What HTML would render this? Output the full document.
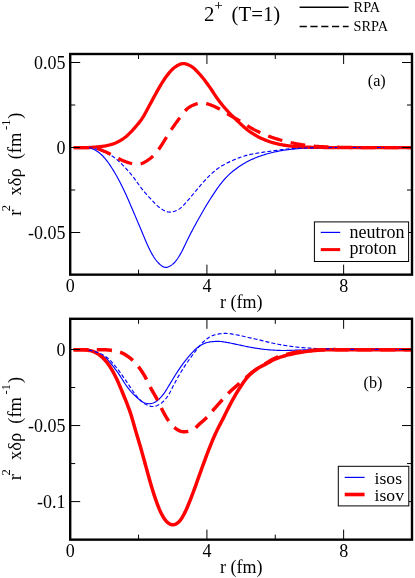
<!DOCTYPE html>
<html><head><meta charset="utf-8"><title>chart</title>
<style>html,body{margin:0;padding:0;background:#fff;}body{width:415px;height:578px;overflow:hidden;font-family:"Liberation Serif",serif;}svg{display:block;}</style></head>
<body>
<svg width="415" height="578" viewBox="0 0 415 578" font-family="'Liberation Serif', serif" fill="#000">
<rect width="415" height="578" fill="#fff"/>
<g opacity="0.999">
<text x="204.10" y="20.50" font-size="20.8" text-anchor="start" >2</text>
<text x="214.80" y="9.60" font-size="13.5" text-anchor="start" stroke="#000" stroke-width="0.3">+</text>
<text x="231.60" y="20.50" font-size="20.8" text-anchor="start" >(T=1)</text>
<path d="M299.6 7.2 H348.6" stroke="#000" stroke-width="1.6"/>
<path d="M299.6 26.5 H348.6" stroke="#000" stroke-width="1.6" stroke-dasharray="7.2 3.6"/>
<text x="353.60" y="11.60" font-size="14.3" text-anchor="start" >RPA</text>
<text x="353.60" y="31.30" font-size="14.3" text-anchor="start" >SRPA</text>
<g clip-path="url(#ca)">
<path d="M70.5 147.50 L71.5 147.50 L72.5 147.50 L73.5 147.50 L74.5 147.50 L75.5 147.50 L76.5 147.50 L77.5 147.50 L78.5 147.50 L79.5 147.50 L80.5 147.50 L81.5 147.51 L82.5 147.52 L83.5 147.54 L84.5 147.56 L85.5 147.60 L86.5 147.66 L87.5 147.73 L88.5 147.84 L89.5 148.00 L90.5 148.22 L91.5 148.51 L92.5 148.88 L93.5 149.31 L94.5 149.80 L95.5 150.34 L96.5 150.92 L97.5 151.56 L98.5 152.26 L99.5 153.03 L100.5 153.86 L101.5 154.76 L102.5 155.72 L103.5 156.75 L104.5 157.85 L105.5 159.03 L106.5 160.28 L107.5 161.61 L108.5 163.00 L109.5 164.44 L110.5 165.93 L111.5 167.45 L112.5 169.02 L113.5 170.64 L114.5 172.31 L115.5 174.02 L116.5 175.77 L117.5 177.57 L118.5 179.41 L119.5 181.30 L120.5 183.23 L121.5 185.21 L122.5 187.23 L123.5 189.29 L124.5 191.40 L125.5 193.55 L126.5 195.74 L127.5 197.98 L128.5 200.26 L129.5 202.57 L130.5 204.90 L131.5 207.24 L132.5 209.59 L133.5 211.94 L134.5 214.29 L135.5 216.64 L136.5 219.00 L137.5 221.36 L138.5 223.73 L139.5 226.09 L140.5 228.46 L141.5 230.83 L142.5 233.22 L143.5 235.63 L144.5 238.03 L145.5 240.42 L146.5 242.77 L147.5 245.04 L148.5 247.22 L149.5 249.29 L150.5 251.25 L151.5 253.11 L152.5 254.87 L153.5 256.53 L154.5 258.07 L155.5 259.48 L156.5 260.77 L157.5 261.94 L158.5 263.01 L159.5 264.00 L160.5 264.90 L161.5 265.71 L162.5 266.38 L163.5 266.90 L164.5 267.24 L165.5 267.39 L166.5 267.36 L167.5 267.16 L168.5 266.81 L169.5 266.34 L170.5 265.78 L171.5 265.12 L172.5 264.37 L173.5 263.51 L174.5 262.52 L175.5 261.39 L176.5 260.12 L177.5 258.73 L178.5 257.23 L179.5 255.62 L180.5 253.91 L181.5 252.09 L182.5 250.15 L183.5 248.13 L184.5 246.04 L185.5 243.92 L186.5 241.82 L187.5 239.74 L188.5 237.71 L189.5 235.73 L190.5 233.78 L191.5 231.87 L192.5 229.97 L193.5 228.10 L194.5 226.24 L195.5 224.40 L196.5 222.57 L197.5 220.76 L198.5 218.97 L199.5 217.18 L200.5 215.42 L201.5 213.66 L202.5 211.93 L203.5 210.21 L204.5 208.50 L205.5 206.82 L206.5 205.16 L207.5 203.52 L208.5 201.90 L209.5 200.31 L210.5 198.73 L211.5 197.18 L212.5 195.64 L213.5 194.12 L214.5 192.62 L215.5 191.12 L216.5 189.65 L217.5 188.20 L218.5 186.79 L219.5 185.41 L220.5 184.09 L221.5 182.81 L222.5 181.58 L223.5 180.39 L224.5 179.25 L225.5 178.14 L226.5 177.08 L227.5 176.06 L228.5 175.08 L229.5 174.14 L230.5 173.24 L231.5 172.37 L232.5 171.53 L233.5 170.72 L234.5 169.94 L235.5 169.18 L236.5 168.44 L237.5 167.73 L238.5 167.03 L239.5 166.35 L240.5 165.70 L241.5 165.06 L242.5 164.43 L243.5 163.83 L244.5 163.24 L245.5 162.67 L246.5 162.12 L247.5 161.59 L248.5 161.07 L249.5 160.56 L250.5 160.07 L251.5 159.59 L252.5 159.12 L253.5 158.67 L254.5 158.24 L255.5 157.82 L256.5 157.42 L257.5 157.03 L258.5 156.66 L259.5 156.30 L260.5 155.95 L261.5 155.61 L262.5 155.28 L263.5 154.96 L264.5 154.65 L265.5 154.35 L266.5 154.06 L267.5 153.78 L268.5 153.51 L269.5 153.24 L270.5 152.99 L271.5 152.74 L272.5 152.49 L273.5 152.25 L274.5 152.02 L275.5 151.80 L276.5 151.58 L277.5 151.37 L278.5 151.17 L279.5 150.97 L280.5 150.79 L281.5 150.62 L282.5 150.45 L283.5 150.30 L284.5 150.15 L285.5 150.01 L286.5 149.88 L287.5 149.75 L288.5 149.63 L289.5 149.51 L290.5 149.40 L291.5 149.29 L292.5 149.18 L293.5 149.07 L294.5 148.96 L295.5 148.86 L296.5 148.76 L297.5 148.66 L298.5 148.57 L299.5 148.49 L300.5 148.41 L301.5 148.34 L302.5 148.28 L303.5 148.23 L304.5 148.18 L305.5 148.13 L306.5 148.09 L307.5 148.05 L308.5 148.01 L309.5 147.97 L310.5 147.93 L311.5 147.90 L312.5 147.87 L313.5 147.84 L314.5 147.81 L315.5 147.79 L316.5 147.76 L317.5 147.74 L318.5 147.73 L319.5 147.71 L320.5 147.70 L321.5 147.68 L322.5 147.67 L323.5 147.66 L324.5 147.65 L325.5 147.64 L326.5 147.63 L327.5 147.62 L328.5 147.61 L329.5 147.60 L330.5 147.59 L331.5 147.58 L332.5 147.58 L333.5 147.57 L334.5 147.56 L335.5 147.55 L336.5 147.55 L337.5 147.54 L338.5 147.53 L339.5 147.53 L340.5 147.52 L341.5 147.52 L342.5 147.52 L343.5 147.51 L344.5 147.51 L345.5 147.51 L346.5 147.50 L347.5 147.50 L348.5 147.50 L349.5 147.50 L350.5 147.50 L351.5 147.50 L352.5 147.50 L353.5 147.50 L354.5 147.50 L355.5 147.50 L356.5 147.50 L357.5 147.50 L358.5 147.50 L359.5 147.50 L360.5 147.50 L361.5 147.50 L362.5 147.50 L363.5 147.50 L364.5 147.50 L365.5 147.50 L366.5 147.50 L367.5 147.50 L368.5 147.50 L369.5 147.50 L370.5 147.50 L371.5 147.50 L372.5 147.50 L373.5 147.50 L374.5 147.50 L375.5 147.50 L376.5 147.50 L377.5 147.50 L378.5 147.50 L379.5 147.50 L380.5 147.50 L381.5 147.50 L382.5 147.50 L383.5 147.50 L384.5 147.50 L385.5 147.50 L386.5 147.50 L387.5 147.50 L388.5 147.50 L389.5 147.50 L390.5 147.50 L391.5 147.50 L392.5 147.50 L393.5 147.50 L394.5 147.50 L395.5 147.50 L396.5 147.50 L397.5 147.50 L398.5 147.50 L399.5 147.50 L400.5 147.50 L401.5 147.50 L402.5 147.50 L403.5 147.50 L404.5 147.50 L405.5 147.50 L406.5 147.50 L407.5 147.50 L408.5 147.50 L409.5 147.50 L410.5 147.50 L411.5 147.50" fill="none" stroke="#0000ff" stroke-width="1.15" stroke-linejoin="round"/>
<path d="M70.5 147.65 L71.5 147.65 L72.5 147.65 L73.5 147.65 L74.5 147.65 L75.5 147.65 L76.5 147.65 L77.5 147.65 L78.5 147.65 L79.5 147.65 L80.5 147.65 L81.5 147.65 L82.5 147.65 L83.5 147.65 L84.5 147.64 L85.5 147.63 L86.5 147.61 L87.5 147.58 L88.5 147.54 L89.5 147.49 L90.5 147.42 L91.5 147.36 L92.5 147.28 L93.5 147.20 L94.5 147.12 L95.5 147.04 L96.5 146.96 L97.5 146.87 L98.5 146.78 L99.5 146.68 L100.5 146.58 L101.5 146.47 L102.5 146.35 L103.5 146.21 L104.5 146.06 L105.5 145.89 L106.5 145.70 L107.5 145.48 L108.5 145.25 L109.5 144.99 L110.5 144.71 L111.5 144.41 L112.5 144.09 L113.5 143.74 L114.5 143.36 L115.5 142.95 L116.5 142.51 L117.5 142.04 L118.5 141.54 L119.5 141.01 L120.5 140.43 L121.5 139.82 L122.5 139.18 L123.5 138.49 L124.5 137.76 L125.5 136.99 L126.5 136.17 L127.5 135.31 L128.5 134.39 L129.5 133.43 L130.5 132.43 L131.5 131.39 L132.5 130.32 L133.5 129.22 L134.5 128.08 L135.5 126.93 L136.5 125.75 L137.5 124.56 L138.5 123.36 L139.5 122.12 L140.5 120.82 L141.5 119.43 L142.5 117.93 L143.5 116.31 L144.5 114.59 L145.5 112.80 L146.5 110.96 L147.5 109.09 L148.5 107.21 L149.5 105.34 L150.5 103.47 L151.5 101.60 L152.5 99.73 L153.5 97.86 L154.5 96.01 L155.5 94.17 L156.5 92.36 L157.5 90.58 L158.5 88.83 L159.5 87.10 L160.5 85.40 L161.5 83.73 L162.5 82.11 L163.5 80.54 L164.5 79.03 L165.5 77.59 L166.5 76.21 L167.5 74.89 L168.5 73.62 L169.5 72.41 L170.5 71.27 L171.5 70.20 L172.5 69.21 L173.5 68.32 L174.5 67.52 L175.5 66.78 L176.5 66.11 L177.5 65.49 L178.5 64.93 L179.5 64.45 L180.5 64.06 L181.5 63.77 L182.5 63.61 L183.5 63.57 L184.5 63.64 L185.5 63.83 L186.5 64.11 L187.5 64.47 L188.5 64.89 L189.5 65.37 L190.5 65.90 L191.5 66.50 L192.5 67.17 L193.5 67.93 L194.5 68.79 L195.5 69.73 L196.5 70.74 L197.5 71.80 L198.5 72.90 L199.5 74.02 L200.5 75.17 L201.5 76.35 L202.5 77.56 L203.5 78.80 L204.5 80.08 L205.5 81.38 L206.5 82.72 L207.5 84.07 L208.5 85.45 L209.5 86.86 L210.5 88.30 L211.5 89.77 L212.5 91.27 L213.5 92.80 L214.5 94.32 L215.5 95.83 L216.5 97.31 L217.5 98.76 L218.5 100.15 L219.5 101.49 L220.5 102.78 L221.5 104.04 L222.5 105.26 L223.5 106.45 L224.5 107.62 L225.5 108.76 L226.5 109.88 L227.5 110.98 L228.5 112.05 L229.5 113.11 L230.5 114.14 L231.5 115.16 L232.5 116.15 L233.5 117.13 L234.5 118.10 L235.5 119.05 L236.5 120.00 L237.5 120.95 L238.5 121.89 L239.5 122.83 L240.5 123.77 L241.5 124.70 L242.5 125.63 L243.5 126.55 L244.5 127.45 L245.5 128.32 L246.5 129.16 L247.5 129.96 L248.5 130.73 L249.5 131.46 L250.5 132.17 L251.5 132.84 L252.5 133.49 L253.5 134.11 L254.5 134.71 L255.5 135.29 L256.5 135.85 L257.5 136.39 L258.5 136.92 L259.5 137.42 L260.5 137.92 L261.5 138.39 L262.5 138.86 L263.5 139.30 L264.5 139.73 L265.5 140.14 L266.5 140.54 L267.5 140.91 L268.5 141.28 L269.5 141.62 L270.5 141.95 L271.5 142.27 L272.5 142.58 L273.5 142.87 L274.5 143.15 L275.5 143.42 L276.5 143.67 L277.5 143.91 L278.5 144.13 L279.5 144.34 L280.5 144.54 L281.5 144.73 L282.5 144.91 L283.5 145.08 L284.5 145.25 L285.5 145.40 L286.5 145.55 L287.5 145.69 L288.5 145.82 L289.5 145.95 L290.5 146.07 L291.5 146.19 L292.5 146.29 L293.5 146.40 L294.5 146.49 L295.5 146.57 L296.5 146.64 L297.5 146.71 L298.5 146.77 L299.5 146.83 L300.5 146.88 L301.5 146.93 L302.5 146.97 L303.5 147.02 L304.5 147.06 L305.5 147.10 L306.5 147.14 L307.5 147.18 L308.5 147.21 L309.5 147.24 L310.5 147.27 L311.5 147.30 L312.5 147.32 L313.5 147.35 L314.5 147.37 L315.5 147.38 L316.5 147.40 L317.5 147.41 L318.5 147.43 L319.5 147.44 L320.5 147.45 L321.5 147.46 L322.5 147.47 L323.5 147.49 L324.5 147.50 L325.5 147.51 L326.5 147.52 L327.5 147.53 L328.5 147.54 L329.5 147.55 L330.5 147.56 L331.5 147.57 L332.5 147.57 L333.5 147.58 L334.5 147.59 L335.5 147.60 L336.5 147.60 L337.5 147.61 L338.5 147.62 L339.5 147.62 L340.5 147.63 L341.5 147.63 L342.5 147.63 L343.5 147.64 L344.5 147.64 L345.5 147.64 L346.5 147.65 L347.5 147.65 L348.5 147.65 L349.5 147.65 L350.5 147.65 L351.5 147.65 L352.5 147.65 L353.5 147.65 L354.5 147.65 L355.5 147.65 L356.5 147.65 L357.5 147.65 L358.5 147.65 L359.5 147.65 L360.5 147.65 L361.5 147.65 L362.5 147.65 L363.5 147.65 L364.5 147.65 L365.5 147.65 L366.5 147.65 L367.5 147.65 L368.5 147.65 L369.5 147.65 L370.5 147.65 L371.5 147.65 L372.5 147.65 L373.5 147.65 L374.5 147.65 L375.5 147.65 L376.5 147.65 L377.5 147.65 L378.5 147.65 L379.5 147.65 L380.5 147.65 L381.5 147.65 L382.5 147.65 L383.5 147.65 L384.5 147.65 L385.5 147.65 L386.5 147.65 L387.5 147.65 L388.5 147.65 L389.5 147.65 L390.5 147.65 L391.5 147.65 L392.5 147.65 L393.5 147.65 L394.5 147.65 L395.5 147.65 L396.5 147.65 L397.5 147.65 L398.5 147.65 L399.5 147.65 L400.5 147.65 L401.5 147.65 L402.5 147.65 L403.5 147.65 L404.5 147.65 L405.5 147.65 L406.5 147.65 L407.5 147.65 L408.5 147.65 L409.5 147.65 L410.5 147.65 L411.5 147.65" fill="none" stroke="#ff0000" stroke-width="3.3" stroke-linejoin="round"/>
<path d="M70.5 147.50 L71.5 147.50 L72.5 147.50 L73.5 147.50 L74.5 147.50 L75.5 147.50 L76.5 147.50 L77.5 147.50 L78.5 147.50 L79.5 147.50 L80.5 147.50 L81.5 147.50 L82.5 147.50 L83.5 147.51 L84.5 147.52 L85.5 147.55 L86.5 147.59 L87.5 147.65 L88.5 147.74 L89.5 147.85 L90.5 147.98 L91.5 148.12 L92.5 148.29 L93.5 148.47 L94.5 148.67 L95.5 148.88 L96.5 149.12 L97.5 149.40 L98.5 149.72 L99.5 150.08 L100.5 150.47 L101.5 150.89 L102.5 151.33 L103.5 151.77 L104.5 152.22 L105.5 152.68 L106.5 153.14 L107.5 153.62 L108.5 154.11 L109.5 154.62 L110.5 155.16 L111.5 155.74 L112.5 156.35 L113.5 157.00 L114.5 157.71 L115.5 158.47 L116.5 159.27 L117.5 160.12 L118.5 161.01 L119.5 161.93 L120.5 162.88 L121.5 163.85 L122.5 164.84 L123.5 165.85 L124.5 166.88 L125.5 167.93 L126.5 169.02 L127.5 170.13 L128.5 171.26 L129.5 172.43 L130.5 173.61 L131.5 174.83 L132.5 176.09 L133.5 177.38 L134.5 178.71 L135.5 180.08 L136.5 181.47 L137.5 182.88 L138.5 184.29 L139.5 185.67 L140.5 187.02 L141.5 188.34 L142.5 189.61 L143.5 190.84 L144.5 192.04 L145.5 193.21 L146.5 194.35 L147.5 195.47 L148.5 196.58 L149.5 197.66 L150.5 198.73 L151.5 199.79 L152.5 200.85 L153.5 201.91 L154.5 202.96 L155.5 203.99 L156.5 204.98 L157.5 205.92 L158.5 206.79 L159.5 207.58 L160.5 208.31 L161.5 208.98 L162.5 209.60 L163.5 210.17 L164.5 210.70 L165.5 211.16 L166.5 211.54 L167.5 211.83 L168.5 212.01 L169.5 212.09 L170.5 212.07 L171.5 211.96 L172.5 211.78 L173.5 211.54 L174.5 211.25 L175.5 210.91 L176.5 210.52 L177.5 210.06 L178.5 209.53 L179.5 208.89 L180.5 208.14 L181.5 207.28 L182.5 206.33 L183.5 205.30 L184.5 204.22 L185.5 203.12 L186.5 201.99 L187.5 200.86 L188.5 199.72 L189.5 198.55 L190.5 197.38 L191.5 196.18 L192.5 194.98 L193.5 193.76 L194.5 192.54 L195.5 191.32 L196.5 190.11 L197.5 188.91 L198.5 187.72 L199.5 186.54 L200.5 185.38 L201.5 184.23 L202.5 183.09 L203.5 181.96 L204.5 180.85 L205.5 179.76 L206.5 178.69 L207.5 177.65 L208.5 176.64 L209.5 175.66 L210.5 174.71 L211.5 173.78 L212.5 172.87 L213.5 171.99 L214.5 171.13 L215.5 170.31 L216.5 169.52 L217.5 168.77 L218.5 168.05 L219.5 167.37 L220.5 166.73 L221.5 166.11 L222.5 165.52 L223.5 164.96 L224.5 164.41 L225.5 163.88 L226.5 163.36 L227.5 162.86 L228.5 162.37 L229.5 161.88 L230.5 161.40 L231.5 160.94 L232.5 160.48 L233.5 160.04 L234.5 159.61 L235.5 159.19 L236.5 158.78 L237.5 158.39 L238.5 158.01 L239.5 157.64 L240.5 157.28 L241.5 156.93 L242.5 156.59 L243.5 156.26 L244.5 155.95 L245.5 155.65 L246.5 155.37 L247.5 155.11 L248.5 154.86 L249.5 154.63 L250.5 154.41 L251.5 154.20 L252.5 154.00 L253.5 153.81 L254.5 153.63 L255.5 153.45 L256.5 153.28 L257.5 153.11 L258.5 152.95 L259.5 152.79 L260.5 152.63 L261.5 152.48 L262.5 152.33 L263.5 152.19 L264.5 152.05 L265.5 151.91 L266.5 151.77 L267.5 151.64 L268.5 151.50 L269.5 151.37 L270.5 151.23 L271.5 151.09 L272.5 150.95 L273.5 150.81 L274.5 150.66 L275.5 150.52 L276.5 150.38 L277.5 150.23 L278.5 150.09 L279.5 149.95 L280.5 149.82 L281.5 149.69 L282.5 149.56 L283.5 149.44 L284.5 149.32 L285.5 149.21 L286.5 149.11 L287.5 149.01 L288.5 148.93 L289.5 148.85 L290.5 148.78 L291.5 148.71 L292.5 148.65 L293.5 148.58 L294.5 148.53 L295.5 148.47 L296.5 148.42 L297.5 148.36 L298.5 148.31 L299.5 148.27 L300.5 148.22 L301.5 148.18 L302.5 148.14 L303.5 148.10 L304.5 148.06 L305.5 148.03 L306.5 148.00 L307.5 147.97 L308.5 147.94 L309.5 147.91 L310.5 147.89 L311.5 147.87 L312.5 147.85 L313.5 147.83 L314.5 147.81 L315.5 147.79 L316.5 147.77 L317.5 147.75 L318.5 147.73 L319.5 147.71 L320.5 147.69 L321.5 147.68 L322.5 147.66 L323.5 147.64 L324.5 147.63 L325.5 147.61 L326.5 147.60 L327.5 147.59 L328.5 147.57 L329.5 147.56 L330.5 147.55 L331.5 147.54 L332.5 147.53 L333.5 147.53 L334.5 147.52 L335.5 147.51 L336.5 147.51 L337.5 147.51 L338.5 147.50 L339.5 147.50 L340.5 147.50 L341.5 147.50 L342.5 147.50 L343.5 147.50 L344.5 147.50 L345.5 147.50 L346.5 147.50 L347.5 147.50 L348.5 147.50 L349.5 147.50 L350.5 147.50 L351.5 147.50 L352.5 147.50 L353.5 147.50 L354.5 147.50 L355.5 147.50 L356.5 147.50 L357.5 147.50 L358.5 147.50 L359.5 147.50 L360.5 147.50 L361.5 147.50 L362.5 147.50 L363.5 147.50 L364.5 147.50 L365.5 147.50 L366.5 147.50 L367.5 147.50 L368.5 147.50 L369.5 147.50 L370.5 147.50 L371.5 147.50 L372.5 147.50 L373.5 147.50 L374.5 147.50 L375.5 147.50 L376.5 147.50 L377.5 147.50 L378.5 147.50 L379.5 147.50 L380.5 147.50 L381.5 147.50 L382.5 147.50 L383.5 147.50 L384.5 147.50 L385.5 147.50 L386.5 147.50 L387.5 147.50 L388.5 147.50 L389.5 147.50 L390.5 147.50 L391.5 147.50 L392.5 147.50 L393.5 147.50 L394.5 147.50 L395.5 147.50 L396.5 147.50 L397.5 147.50 L398.5 147.50 L399.5 147.50 L400.5 147.50 L401.5 147.50 L402.5 147.50 L403.5 147.50 L404.5 147.50 L405.5 147.50 L406.5 147.50 L407.5 147.50 L408.5 147.50 L409.5 147.50 L410.5 147.50 L411.5 147.50" fill="none" stroke="#0000ff" stroke-width="1.15" stroke-dasharray="4 2.1" stroke-dashoffset="0.00" stroke-linejoin="round"/>
<path d="M70.5 147.65 L71.5 147.65 L72.5 147.65 L73.5 147.65 L74.5 147.65 L75.5 147.65 L76.5 147.65 L77.5 147.65 L78.5 147.65 L79.5 147.65 L80.5 147.65 L81.5 147.65 L82.5 147.65 L83.5 147.65 L84.5 147.65 L85.5 147.65 L86.5 147.65 L87.5 147.65 L88.5 147.66 L89.5 147.67 L90.5 147.70 L91.5 147.75 L92.5 147.82 L93.5 147.92 L94.5 148.04 L95.5 148.20 L96.5 148.39 L97.5 148.63 L98.5 148.93 L99.5 149.29 L100.5 149.68 L101.5 150.11 L102.5 150.54 L103.5 150.98 L104.5 151.41 L105.5 151.84 L106.5 152.28 L107.5 152.72 L108.5 153.18 L109.5 153.66 L110.5 154.16 L111.5 154.68 L112.5 155.23 L113.5 155.79 L114.5 156.35 L115.5 156.92 L116.5 157.47 L117.5 158.00 L118.5 158.52 L119.5 159.03 L120.5 159.51 L121.5 159.98 L122.5 160.43 L123.5 160.86 L124.5 161.26 L125.5 161.65 L126.5 162.01 L127.5 162.36 L128.5 162.68 L129.5 162.98 L130.5 163.25 L131.5 163.50 L132.5 163.71 L133.5 163.89 L134.5 164.03 L135.5 164.13 L136.5 164.18 L137.5 164.17 L138.5 164.11 L139.5 163.99 L140.5 163.81 L141.5 163.56 L142.5 163.21 L143.5 162.78 L144.5 162.27 L145.5 161.69 L146.5 161.08 L147.5 160.42 L148.5 159.73 L149.5 159.00 L150.5 158.23 L151.5 157.39 L152.5 156.50 L153.5 155.54 L154.5 154.51 L155.5 153.40 L156.5 152.22 L157.5 150.96 L158.5 149.64 L159.5 148.24 L160.5 146.78 L161.5 145.27 L162.5 143.70 L163.5 142.10 L164.5 140.49 L165.5 138.86 L166.5 137.24 L167.5 135.62 L168.5 134.01 L169.5 132.43 L170.5 130.87 L171.5 129.35 L172.5 127.87 L173.5 126.44 L174.5 125.03 L175.5 123.65 L176.5 122.28 L177.5 120.92 L178.5 119.56 L179.5 118.20 L180.5 116.82 L181.5 115.45 L182.5 114.09 L183.5 112.79 L184.5 111.57 L185.5 110.46 L186.5 109.46 L187.5 108.56 L188.5 107.76 L189.5 107.05 L190.5 106.43 L191.5 105.88 L192.5 105.40 L193.5 104.97 L194.5 104.59 L195.5 104.25 L196.5 103.94 L197.5 103.67 L198.5 103.43 L199.5 103.23 L200.5 103.08 L201.5 103.00 L202.5 103.00 L203.5 103.07 L204.5 103.21 L205.5 103.41 L206.5 103.64 L207.5 103.91 L208.5 104.20 L209.5 104.52 L210.5 104.87 L211.5 105.25 L212.5 105.66 L213.5 106.09 L214.5 106.53 L215.5 107.00 L216.5 107.48 L217.5 107.97 L218.5 108.48 L219.5 109.00 L220.5 109.55 L221.5 110.13 L222.5 110.73 L223.5 111.36 L224.5 111.99 L225.5 112.63 L226.5 113.27 L227.5 113.89 L228.5 114.50 L229.5 115.08 L230.5 115.65 L231.5 116.21 L232.5 116.76 L233.5 117.31 L234.5 117.85 L235.5 118.40 L236.5 118.96 L237.5 119.53 L238.5 120.11 L239.5 120.71 L240.5 121.33 L241.5 121.95 L242.5 122.59 L243.5 123.24 L244.5 123.90 L245.5 124.55 L246.5 125.20 L247.5 125.84 L248.5 126.47 L249.5 127.09 L250.5 127.69 L251.5 128.27 L252.5 128.82 L253.5 129.36 L254.5 129.87 L255.5 130.38 L256.5 130.87 L257.5 131.35 L258.5 131.82 L259.5 132.28 L260.5 132.74 L261.5 133.19 L262.5 133.63 L263.5 134.06 L264.5 134.49 L265.5 134.90 L266.5 135.31 L267.5 135.71 L268.5 136.09 L269.5 136.47 L270.5 136.84 L271.5 137.19 L272.5 137.54 L273.5 137.87 L274.5 138.20 L275.5 138.52 L276.5 138.83 L277.5 139.13 L278.5 139.43 L279.5 139.72 L280.5 140.01 L281.5 140.29 L282.5 140.57 L283.5 140.84 L284.5 141.11 L285.5 141.37 L286.5 141.62 L287.5 141.87 L288.5 142.11 L289.5 142.35 L290.5 142.58 L291.5 142.80 L292.5 143.01 L293.5 143.22 L294.5 143.42 L295.5 143.61 L296.5 143.79 L297.5 143.97 L298.5 144.14 L299.5 144.30 L300.5 144.46 L301.5 144.62 L302.5 144.77 L303.5 144.91 L304.5 145.06 L305.5 145.20 L306.5 145.33 L307.5 145.46 L308.5 145.59 L309.5 145.71 L310.5 145.82 L311.5 145.93 L312.5 146.03 L313.5 146.12 L314.5 146.21 L315.5 146.28 L316.5 146.36 L317.5 146.42 L318.5 146.48 L319.5 146.54 L320.5 146.60 L321.5 146.65 L322.5 146.70 L323.5 146.75 L324.5 146.80 L325.5 146.84 L326.5 146.89 L327.5 146.93 L328.5 146.97 L329.5 147.00 L330.5 147.04 L331.5 147.08 L332.5 147.11 L333.5 147.14 L334.5 147.17 L335.5 147.20 L336.5 147.22 L337.5 147.25 L338.5 147.27 L339.5 147.29 L340.5 147.31 L341.5 147.33 L342.5 147.35 L343.5 147.36 L344.5 147.38 L345.5 147.40 L346.5 147.41 L347.5 147.43 L348.5 147.45 L349.5 147.46 L350.5 147.48 L351.5 147.49 L352.5 147.51 L353.5 147.52 L354.5 147.54 L355.5 147.55 L356.5 147.56 L357.5 147.57 L358.5 147.58 L359.5 147.59 L360.5 147.60 L361.5 147.61 L362.5 147.62 L363.5 147.63 L364.5 147.63 L365.5 147.64 L366.5 147.64 L367.5 147.64 L368.5 147.65 L369.5 147.65 L370.5 147.65 L371.5 147.65 L372.5 147.65 L373.5 147.65 L374.5 147.65 L375.5 147.65 L376.5 147.65 L377.5 147.65 L378.5 147.65 L379.5 147.65 L380.5 147.65 L381.5 147.65 L382.5 147.65 L383.5 147.65 L384.5 147.65 L385.5 147.65 L386.5 147.65 L387.5 147.65 L388.5 147.65 L389.5 147.65 L390.5 147.65 L391.5 147.65 L392.5 147.65 L393.5 147.65 L394.5 147.65 L395.5 147.65 L396.5 147.65 L397.5 147.65 L398.5 147.65 L399.5 147.65 L400.5 147.65 L401.5 147.65 L402.5 147.65 L403.5 147.65 L404.5 147.65 L405.5 147.65 L406.5 147.65 L407.5 147.65 L408.5 147.65 L409.5 147.65 L410.5 147.65 L411.5 147.65" fill="none" stroke="#ff0000" stroke-width="3.3" stroke-dasharray="14.8 8.6" stroke-dashoffset="-3.30" stroke-linejoin="round"/>
</g>
<path d="M138.56 274.65 v-5.00 M138.56 54.00 v5.00 M206.92 274.65 v-10.00 M206.92 54.00 v10.00 M275.28 274.65 v-5.00 M275.28 54.00 v5.00 M343.64 274.65 v-10.00 M343.64 54.00 v10.00 M70.20 62.50 h10.00 M412.00 62.50 h-10.00 M70.20 147.50 h10.00 M412.00 147.50 h-10.00 M70.20 232.50 h10.00 M412.00 232.50 h-10.00 M70.20 105.00 h5.00 M412.00 105.00 h-5.00 M70.20 190.00 h5.00 M412.00 190.00 h-5.00" stroke="#000" stroke-width="1" fill="none"/>
<rect x="314.4" y="221.9" width="94.2" height="39.6" fill="#fff" stroke="#000" stroke-width="1"/>
<path d="M320.8 232.4 H340.2" stroke="#0000ff" stroke-width="1.2"/>
<path d="M320.8 249.6 H340.2" stroke="#ff0000" stroke-width="3"/>
<text x="349.60" y="237.70" font-size="18" text-anchor="start" >neutron</text>
<text x="349.60" y="253.80" font-size="18" text-anchor="start" >proton</text>
<rect x="70.20" y="54.00" width="341.80" height="220.65" fill="none" stroke="#000" stroke-width="2.40"/>
<text x="367.80" y="85.90" font-size="16.2" text-anchor="start" >(a)</text>
<text x="65.40" y="68.70" font-size="18" text-anchor="end" >0.05</text>
<text x="65.40" y="153.70" font-size="18" text-anchor="end" >0</text>
<text x="65.40" y="238.70" font-size="18" text-anchor="end" >-0.05</text>
<text x="70.20" y="291.80" font-size="18" text-anchor="middle" >0</text>
<text x="206.92" y="291.80" font-size="18" text-anchor="middle" >4</text>
<text x="343.64" y="291.80" font-size="18" text-anchor="middle" >8</text>
<text x="241.30" y="308.10" font-size="18" text-anchor="middle" >r (fm)</text>
<g transform="translate(20.8 216.00) rotate(-90)"><text x="0.20" y="0.00" font-size="18.5">r</text><text x="4.80" y="-10.90" font-size="12.5">2</text><text x="20.50" y="0.00" font-size="18.5">xδρ</text><text x="56.70" y="0.00" font-size="18.5">(fm</text><text x="86.00" y="-10.90" font-size="12.5">-1</text><text x="97.30" y="0.00" font-size="18.5">)</text></g>
<g clip-path="url(#cb)">
<path d="M70.2 349.50 L71.2 349.50 L72.2 349.50 L73.2 349.50 L74.2 349.50 L75.2 349.50 L76.2 349.50 L77.2 349.50 L78.2 349.51 L79.2 349.51 L80.2 349.53 L81.2 349.56 L82.2 349.61 L83.2 349.68 L84.2 349.76 L85.2 349.86 L86.2 349.98 L87.2 350.12 L88.2 350.28 L89.2 350.48 L90.2 350.71 L91.2 350.98 L92.2 351.28 L93.2 351.62 L94.2 351.99 L95.2 352.38 L96.2 352.78 L97.2 353.20 L98.2 353.64 L99.2 354.10 L100.2 354.60 L101.2 355.12 L102.2 355.69 L103.2 356.30 L104.2 356.96 L105.2 357.69 L106.2 358.50 L107.2 359.40 L108.2 360.41 L109.2 361.50 L110.2 362.67 L111.2 363.89 L112.2 365.14 L113.2 366.42 L114.2 367.71 L115.2 369.04 L116.2 370.39 L117.2 371.77 L118.2 373.20 L119.2 374.66 L120.2 376.17 L121.2 377.73 L122.2 379.30 L123.2 380.89 L124.2 382.45 L125.2 383.96 L126.2 385.42 L127.2 386.81 L128.2 388.15 L129.2 389.43 L130.2 390.67 L131.2 391.85 L132.2 392.96 L133.2 393.99 L134.2 394.96 L135.2 395.88 L136.2 396.79 L137.2 397.70 L138.2 398.60 L139.2 399.49 L140.2 400.32 L141.2 401.06 L142.2 401.71 L143.2 402.25 L144.2 402.69 L145.2 403.04 L146.2 403.30 L147.2 403.50 L148.2 403.64 L149.2 403.70 L150.2 403.67 L151.2 403.54 L152.2 403.31 L153.2 402.96 L154.2 402.53 L155.2 402.00 L156.2 401.40 L157.2 400.69 L158.2 399.89 L159.2 398.98 L160.2 397.97 L161.2 396.88 L162.2 395.70 L163.2 394.43 L164.2 393.07 L165.2 391.61 L166.2 390.07 L167.2 388.46 L168.2 386.82 L169.2 385.16 L170.2 383.50 L171.2 381.85 L172.2 380.20 L173.2 378.55 L174.2 376.92 L175.2 375.29 L176.2 373.68 L177.2 372.11 L178.2 370.57 L179.2 369.07 L180.2 367.61 L181.2 366.19 L182.2 364.80 L183.2 363.43 L184.2 362.11 L185.2 360.81 L186.2 359.55 L187.2 358.32 L188.2 357.12 L189.2 355.96 L190.2 354.81 L191.2 353.69 L192.2 352.59 L193.2 351.53 L194.2 350.50 L195.2 349.52 L196.2 348.62 L197.2 347.78 L198.2 347.02 L199.2 346.32 L200.2 345.69 L201.2 345.10 L202.2 344.55 L203.2 344.04 L204.2 343.57 L205.2 343.16 L206.2 342.81 L207.2 342.51 L208.2 342.27 L209.2 342.08 L210.2 341.92 L211.2 341.79 L212.2 341.68 L213.2 341.58 L214.2 341.50 L215.2 341.43 L216.2 341.39 L217.2 341.36 L218.2 341.36 L219.2 341.40 L220.2 341.46 L221.2 341.55 L222.2 341.67 L223.2 341.82 L224.2 341.98 L225.2 342.15 L226.2 342.32 L227.2 342.50 L228.2 342.68 L229.2 342.86 L230.2 343.06 L231.2 343.25 L232.2 343.46 L233.2 343.67 L234.2 343.89 L235.2 344.10 L236.2 344.32 L237.2 344.53 L238.2 344.75 L239.2 344.96 L240.2 345.17 L241.2 345.38 L242.2 345.60 L243.2 345.81 L244.2 346.02 L245.2 346.23 L246.2 346.44 L247.2 346.64 L248.2 346.84 L249.2 347.04 L250.2 347.23 L251.2 347.42 L252.2 347.60 L253.2 347.77 L254.2 347.94 L255.2 348.10 L256.2 348.25 L257.2 348.40 L258.2 348.55 L259.2 348.69 L260.2 348.83 L261.2 348.97 L262.2 349.10 L263.2 349.22 L264.2 349.34 L265.2 349.45 L266.2 349.55 L267.2 349.65 L268.2 349.73 L269.2 349.81 L270.2 349.89 L271.2 349.96 L272.2 350.03 L273.2 350.09 L274.2 350.15 L275.2 350.21 L276.2 350.27 L277.2 350.32 L278.2 350.37 L279.2 350.40 L280.2 350.44 L281.2 350.46 L282.2 350.48 L283.2 350.48 L284.2 350.48 L285.2 350.47 L286.2 350.46 L287.2 350.44 L288.2 350.41 L289.2 350.38 L290.2 350.35 L291.2 350.32 L292.2 350.28 L293.2 350.24 L294.2 350.20 L295.2 350.16 L296.2 350.12 L297.2 350.09 L298.2 350.06 L299.2 350.03 L300.2 350.00 L301.2 349.97 L302.2 349.95 L303.2 349.92 L304.2 349.89 L305.2 349.87 L306.2 349.84 L307.2 349.82 L308.2 349.79 L309.2 349.77 L310.2 349.74 L311.2 349.72 L312.2 349.69 L313.2 349.67 L314.2 349.65 L315.2 349.63 L316.2 349.61 L317.2 349.59 L318.2 349.57 L319.2 349.56 L320.2 349.54 L321.2 349.53 L322.2 349.52 L323.2 349.51 L324.2 349.51 L325.2 349.50 L326.2 349.50 L327.2 349.50 L328.2 349.50 L329.2 349.50 L330.2 349.50 L331.2 349.50 L332.2 349.50 L333.2 349.50 L334.2 349.50 L335.2 349.50 L336.2 349.50 L337.2 349.50 L338.2 349.50 L339.2 349.50 L340.2 349.50 L341.2 349.50 L342.2 349.50 L343.2 349.50 L344.2 349.50 L345.2 349.50 L346.2 349.50 L347.2 349.50 L348.2 349.50 L349.2 349.50 L350.2 349.50 L351.2 349.50 L352.2 349.50 L353.2 349.50 L354.2 349.50 L355.2 349.50 L356.2 349.50 L357.2 349.50 L358.2 349.50 L359.2 349.50 L360.2 349.50 L361.2 349.50 L362.2 349.50 L363.2 349.50 L364.2 349.50 L365.2 349.50 L366.2 349.50 L367.2 349.50 L368.2 349.50 L369.2 349.50 L370.2 349.50 L371.2 349.50 L372.2 349.50 L373.2 349.50 L374.2 349.50 L375.2 349.50 L376.2 349.50 L377.2 349.50 L378.2 349.50 L379.2 349.50 L380.2 349.50 L381.2 349.50 L382.2 349.50 L383.2 349.50 L384.2 349.50 L385.2 349.50 L386.2 349.50 L387.2 349.50 L388.2 349.50 L389.2 349.50 L390.2 349.50 L391.2 349.50 L392.2 349.50 L393.2 349.50 L394.2 349.50 L395.2 349.50 L396.2 349.50 L397.2 349.50 L398.2 349.50 L399.2 349.50 L400.2 349.50 L401.2 349.50 L402.2 349.50 L403.2 349.50 L404.2 349.50 L405.2 349.50 L406.2 349.50 L407.2 349.50 L408.2 349.50 L409.2 349.50 L410.2 349.50 L411.2 349.50 L412.2 349.50" fill="none" stroke="#0000ff" stroke-width="1.15" stroke-linejoin="round"/>
<path d="M70.2 349.65 L71.2 349.65 L72.2 349.65 L73.2 349.65 L74.2 349.65 L75.2 349.65 L76.2 349.65 L77.2 349.65 L78.2 349.66 L79.2 349.67 L80.2 349.68 L81.2 349.70 L82.2 349.73 L83.2 349.77 L84.2 349.82 L85.2 349.89 L86.2 349.98 L87.2 350.10 L88.2 350.25 L89.2 350.42 L90.2 350.63 L91.2 350.87 L92.2 351.16 L93.2 351.51 L94.2 351.92 L95.2 352.39 L96.2 352.92 L97.2 353.50 L98.2 354.14 L99.2 354.82 L100.2 355.57 L101.2 356.38 L102.2 357.26 L103.2 358.21 L104.2 359.23 L105.2 360.32 L106.2 361.49 L107.2 362.75 L108.2 364.10 L109.2 365.54 L110.2 367.06 L111.2 368.67 L112.2 370.36 L113.2 372.12 L114.2 373.98 L115.2 375.93 L116.2 377.97 L117.2 380.10 L118.2 382.32 L119.2 384.61 L120.2 386.96 L121.2 389.36 L122.2 391.79 L123.2 394.26 L124.2 396.73 L125.2 399.22 L126.2 401.71 L127.2 404.22 L128.2 406.79 L129.2 409.46 L130.2 412.30 L131.2 415.37 L132.2 418.66 L133.2 422.12 L134.2 425.66 L135.2 429.18 L136.2 432.63 L137.2 436.00 L138.2 439.34 L139.2 442.69 L140.2 446.09 L141.2 449.57 L142.2 453.11 L143.2 456.71 L144.2 460.33 L145.2 463.98 L146.2 467.63 L147.2 471.27 L148.2 474.88 L149.2 478.46 L150.2 481.96 L151.2 485.40 L152.2 488.74 L153.2 492.00 L154.2 495.14 L155.2 498.16 L156.2 501.05 L157.2 503.80 L158.2 506.41 L159.2 508.87 L160.2 511.15 L161.2 513.26 L162.2 515.19 L163.2 516.95 L164.2 518.53 L165.2 519.92 L166.2 521.13 L167.2 522.14 L168.2 522.99 L169.2 523.68 L170.2 524.21 L171.2 524.58 L172.2 524.77 L173.2 524.78 L174.2 524.62 L175.2 524.30 L176.2 523.83 L177.2 523.22 L178.2 522.45 L179.2 521.49 L180.2 520.33 L181.2 518.98 L182.2 517.45 L183.2 515.74 L184.2 513.88 L185.2 511.87 L186.2 509.71 L187.2 507.43 L188.2 505.05 L189.2 502.61 L190.2 500.10 L191.2 497.53 L192.2 494.91 L193.2 492.24 L194.2 489.53 L195.2 486.79 L196.2 484.03 L197.2 481.24 L198.2 478.44 L199.2 475.64 L200.2 472.84 L201.2 470.06 L202.2 467.28 L203.2 464.53 L204.2 461.79 L205.2 459.08 L206.2 456.40 L207.2 453.75 L208.2 451.14 L209.2 448.57 L210.2 446.05 L211.2 443.58 L212.2 441.16 L213.2 438.80 L214.2 436.51 L215.2 434.28 L216.2 432.13 L217.2 430.06 L218.2 428.05 L219.2 426.08 L220.2 424.15 L221.2 422.22 L222.2 420.29 L223.2 418.33 L224.2 416.35 L225.2 414.34 L226.2 412.33 L227.2 410.32 L228.2 408.32 L229.2 406.35 L230.2 404.43 L231.2 402.54 L232.2 400.69 L233.2 398.88 L234.2 397.11 L235.2 395.37 L236.2 393.68 L237.2 392.02 L238.2 390.39 L239.2 388.80 L240.2 387.24 L241.2 385.70 L242.2 384.19 L243.2 382.72 L244.2 381.31 L245.2 379.95 L246.2 378.68 L247.2 377.48 L248.2 376.36 L249.2 375.31 L250.2 374.33 L251.2 373.40 L252.2 372.53 L253.2 371.69 L254.2 370.90 L255.2 370.15 L256.2 369.44 L257.2 368.76 L258.2 368.12 L259.2 367.52 L260.2 366.95 L261.2 366.40 L262.2 365.88 L263.2 365.37 L264.2 364.87 L265.2 364.36 L266.2 363.84 L267.2 363.32 L268.2 362.77 L269.2 362.21 L270.2 361.64 L271.2 361.07 L272.2 360.52 L273.2 360.00 L274.2 359.51 L275.2 359.06 L276.2 358.64 L277.2 358.25 L278.2 357.88 L279.2 357.53 L280.2 357.20 L281.2 356.88 L282.2 356.57 L283.2 356.27 L284.2 355.99 L285.2 355.70 L286.2 355.43 L287.2 355.17 L288.2 354.91 L289.2 354.67 L290.2 354.43 L291.2 354.19 L292.2 353.97 L293.2 353.75 L294.2 353.53 L295.2 353.33 L296.2 353.12 L297.2 352.93 L298.2 352.74 L299.2 352.57 L300.2 352.40 L301.2 352.23 L302.2 352.08 L303.2 351.93 L304.2 351.78 L305.2 351.64 L306.2 351.51 L307.2 351.38 L308.2 351.25 L309.2 351.13 L310.2 351.02 L311.2 350.92 L312.2 350.82 L313.2 350.72 L314.2 350.63 L315.2 350.54 L316.2 350.45 L317.2 350.36 L318.2 350.28 L319.2 350.20 L320.2 350.12 L321.2 350.05 L322.2 349.99 L323.2 349.94 L324.2 349.89 L325.2 349.85 L326.2 349.82 L327.2 349.80 L328.2 349.78 L329.2 349.77 L330.2 349.75 L331.2 349.74 L332.2 349.73 L333.2 349.72 L334.2 349.71 L335.2 349.70 L336.2 349.69 L337.2 349.68 L338.2 349.67 L339.2 349.67 L340.2 349.66 L341.2 349.66 L342.2 349.66 L343.2 349.65 L344.2 349.65 L345.2 349.65 L346.2 349.65 L347.2 349.65 L348.2 349.65 L349.2 349.65 L350.2 349.65 L351.2 349.65 L352.2 349.65 L353.2 349.65 L354.2 349.65 L355.2 349.65 L356.2 349.65 L357.2 349.65 L358.2 349.65 L359.2 349.65 L360.2 349.65 L361.2 349.65 L362.2 349.65 L363.2 349.65 L364.2 349.65 L365.2 349.65 L366.2 349.65 L367.2 349.65 L368.2 349.65 L369.2 349.65 L370.2 349.65 L371.2 349.65 L372.2 349.65 L373.2 349.65 L374.2 349.65 L375.2 349.65 L376.2 349.65 L377.2 349.65 L378.2 349.65 L379.2 349.65 L380.2 349.65 L381.2 349.65 L382.2 349.65 L383.2 349.65 L384.2 349.65 L385.2 349.65 L386.2 349.65 L387.2 349.65 L388.2 349.65 L389.2 349.65 L390.2 349.65 L391.2 349.65 L392.2 349.65 L393.2 349.65 L394.2 349.65 L395.2 349.65 L396.2 349.65 L397.2 349.65 L398.2 349.65 L399.2 349.65 L400.2 349.65 L401.2 349.65 L402.2 349.65 L403.2 349.65 L404.2 349.65 L405.2 349.65 L406.2 349.65 L407.2 349.65 L408.2 349.65 L409.2 349.65 L410.2 349.65 L411.2 349.65 L412.2 349.65" fill="none" stroke="#ff0000" stroke-width="3.5" stroke-linejoin="round"/>
<path d="M70.2 349.50 L71.2 349.50 L72.2 349.50 L73.2 349.50 L74.2 349.50 L75.2 349.50 L76.2 349.50 L77.2 349.50 L78.2 349.50 L79.2 349.51 L80.2 349.52 L81.2 349.54 L82.2 349.58 L83.2 349.62 L84.2 349.68 L85.2 349.76 L86.2 349.84 L87.2 349.95 L88.2 350.07 L89.2 350.22 L90.2 350.41 L91.2 350.63 L92.2 350.88 L93.2 351.16 L94.2 351.46 L95.2 351.78 L96.2 352.12 L97.2 352.47 L98.2 352.84 L99.2 353.23 L100.2 353.65 L101.2 354.09 L102.2 354.57 L103.2 355.09 L104.2 355.64 L105.2 356.26 L106.2 356.93 L107.2 357.68 L108.2 358.51 L109.2 359.42 L110.2 360.40 L111.2 361.43 L112.2 362.52 L113.2 363.65 L114.2 364.81 L115.2 366.01 L116.2 367.25 L117.2 368.54 L118.2 369.86 L119.2 371.21 L120.2 372.59 L121.2 373.98 L122.2 375.39 L123.2 376.81 L124.2 378.25 L125.2 379.70 L126.2 381.16 L127.2 382.63 L128.2 384.10 L129.2 385.57 L130.2 387.06 L131.2 388.54 L132.2 390.02 L133.2 391.48 L134.2 392.90 L135.2 394.26 L136.2 395.55 L137.2 396.76 L138.2 397.90 L139.2 398.99 L140.2 400.01 L141.2 400.98 L142.2 401.88 L143.2 402.70 L144.2 403.42 L145.2 404.06 L146.2 404.61 L147.2 405.09 L148.2 405.51 L149.2 405.88 L150.2 406.18 L151.2 406.40 L152.2 406.52 L153.2 406.54 L154.2 406.45 L155.2 406.24 L156.2 405.92 L157.2 405.52 L158.2 405.04 L159.2 404.49 L160.2 403.88 L161.2 403.19 L162.2 402.42 L163.2 401.54 L164.2 400.56 L165.2 399.47 L166.2 398.26 L167.2 396.92 L168.2 395.43 L169.2 393.78 L170.2 391.98 L171.2 390.06 L172.2 388.07 L173.2 386.08 L174.2 384.12 L175.2 382.21 L176.2 380.37 L177.2 378.57 L178.2 376.81 L179.2 375.09 L180.2 373.39 L181.2 371.73 L182.2 370.09 L183.2 368.50 L184.2 366.93 L185.2 365.41 L186.2 363.91 L187.2 362.45 L188.2 361.01 L189.2 359.61 L190.2 358.22 L191.2 356.86 L192.2 355.52 L193.2 354.19 L194.2 352.86 L195.2 351.54 L196.2 350.22 L197.2 348.91 L198.2 347.63 L199.2 346.37 L200.2 345.17 L201.2 344.04 L202.2 342.98 L203.2 342.00 L204.2 341.09 L205.2 340.23 L206.2 339.43 L207.2 338.67 L208.2 337.96 L209.2 337.31 L210.2 336.72 L211.2 336.20 L212.2 335.76 L213.2 335.38 L214.2 335.06 L215.2 334.78 L216.2 334.52 L217.2 334.30 L218.2 334.09 L219.2 333.90 L220.2 333.74 L221.2 333.61 L222.2 333.50 L223.2 333.42 L224.2 333.38 L225.2 333.37 L226.2 333.39 L227.2 333.45 L228.2 333.53 L229.2 333.64 L230.2 333.76 L231.2 333.91 L232.2 334.07 L233.2 334.24 L234.2 334.41 L235.2 334.59 L236.2 334.77 L237.2 334.96 L238.2 335.15 L239.2 335.35 L240.2 335.56 L241.2 335.78 L242.2 336.02 L243.2 336.26 L244.2 336.50 L245.2 336.75 L246.2 337.00 L247.2 337.24 L248.2 337.48 L249.2 337.70 L250.2 337.92 L251.2 338.13 L252.2 338.34 L253.2 338.55 L254.2 338.76 L255.2 338.97 L256.2 339.20 L257.2 339.43 L258.2 339.67 L259.2 339.92 L260.2 340.17 L261.2 340.42 L262.2 340.67 L263.2 340.92 L264.2 341.17 L265.2 341.42 L266.2 341.66 L267.2 341.90 L268.2 342.13 L269.2 342.36 L270.2 342.58 L271.2 342.80 L272.2 343.02 L273.2 343.23 L274.2 343.44 L275.2 343.65 L276.2 343.85 L277.2 344.05 L278.2 344.25 L279.2 344.44 L280.2 344.63 L281.2 344.81 L282.2 344.99 L283.2 345.16 L284.2 345.32 L285.2 345.49 L286.2 345.65 L287.2 345.80 L288.2 345.96 L289.2 346.11 L290.2 346.25 L291.2 346.39 L292.2 346.53 L293.2 346.66 L294.2 346.79 L295.2 346.91 L296.2 347.02 L297.2 347.13 L298.2 347.23 L299.2 347.33 L300.2 347.42 L301.2 347.51 L302.2 347.60 L303.2 347.68 L304.2 347.76 L305.2 347.84 L306.2 347.91 L307.2 347.98 L308.2 348.05 L309.2 348.11 L310.2 348.17 L311.2 348.23 L312.2 348.29 L313.2 348.34 L314.2 348.40 L315.2 348.45 L316.2 348.50 L317.2 348.54 L318.2 348.59 L319.2 348.63 L320.2 348.68 L321.2 348.72 L322.2 348.75 L323.2 348.79 L324.2 348.82 L325.2 348.85 L326.2 348.88 L327.2 348.91 L328.2 348.94 L329.2 348.96 L330.2 348.98 L331.2 349.01 L332.2 349.03 L333.2 349.05 L334.2 349.07 L335.2 349.09 L336.2 349.11 L337.2 349.13 L338.2 349.15 L339.2 349.17 L340.2 349.19 L341.2 349.20 L342.2 349.22 L343.2 349.23 L344.2 349.24 L345.2 349.26 L346.2 349.27 L347.2 349.28 L348.2 349.29 L349.2 349.29 L350.2 349.30 L351.2 349.31 L352.2 349.31 L353.2 349.32 L354.2 349.32 L355.2 349.33 L356.2 349.34 L357.2 349.34 L358.2 349.35 L359.2 349.35 L360.2 349.36 L361.2 349.36 L362.2 349.37 L363.2 349.37 L364.2 349.38 L365.2 349.38 L366.2 349.39 L367.2 349.39 L368.2 349.40 L369.2 349.40 L370.2 349.41 L371.2 349.41 L372.2 349.41 L373.2 349.42 L374.2 349.42 L375.2 349.43 L376.2 349.43 L377.2 349.43 L378.2 349.44 L379.2 349.44 L380.2 349.44 L381.2 349.45 L382.2 349.45 L383.2 349.45 L384.2 349.46 L385.2 349.46 L386.2 349.46 L387.2 349.47 L388.2 349.47 L389.2 349.47 L390.2 349.47 L391.2 349.48 L392.2 349.48 L393.2 349.48 L394.2 349.48 L395.2 349.48 L396.2 349.49 L397.2 349.49 L398.2 349.49 L399.2 349.49 L400.2 349.49 L401.2 349.49 L402.2 349.49 L403.2 349.50 L404.2 349.50 L405.2 349.50 L406.2 349.50 L407.2 349.50 L408.2 349.50 L409.2 349.50 L410.2 349.50 L411.2 349.50 L412.2 349.50" fill="none" stroke="#0000ff" stroke-width="1.15" stroke-dasharray="4 2.1" stroke-dashoffset="0.00" stroke-linejoin="round"/>
<path d="M70.2 349.65 L71.2 349.65 L72.2 349.65 L73.2 349.65 L74.2 349.65 L75.2 349.65 L76.2 349.65 L77.2 349.65 L78.2 349.65 L79.2 349.65 L80.2 349.65 L81.2 349.65 L82.2 349.65 L83.2 349.65 L84.2 349.65 L85.2 349.65 L86.2 349.65 L87.2 349.65 L88.2 349.65 L89.2 349.65 L90.2 349.65 L91.2 349.65 L92.2 349.65 L93.2 349.65 L94.2 349.65 L95.2 349.65 L96.2 349.65 L97.2 349.65 L98.2 349.65 L99.2 349.65 L100.2 349.65 L101.2 349.66 L102.2 349.67 L103.2 349.69 L104.2 349.72 L105.2 349.76 L106.2 349.83 L107.2 349.90 L108.2 349.99 L109.2 350.09 L110.2 350.19 L111.2 350.31 L112.2 350.44 L113.2 350.58 L114.2 350.74 L115.2 350.92 L116.2 351.12 L117.2 351.34 L118.2 351.59 L119.2 351.88 L120.2 352.21 L121.2 352.60 L122.2 353.04 L123.2 353.54 L124.2 354.09 L125.2 354.69 L126.2 355.33 L127.2 355.99 L128.2 356.68 L129.2 357.40 L130.2 358.17 L131.2 358.98 L132.2 359.85 L133.2 360.79 L134.2 361.78 L135.2 362.84 L136.2 363.96 L137.2 365.15 L138.2 366.39 L139.2 367.68 L140.2 369.04 L141.2 370.47 L142.2 371.96 L143.2 373.53 L144.2 375.19 L145.2 376.96 L146.2 378.85 L147.2 380.84 L148.2 382.89 L149.2 384.95 L150.2 386.94 L151.2 388.83 L152.2 390.62 L153.2 392.34 L154.2 394.04 L155.2 395.78 L156.2 397.59 L157.2 399.51 L158.2 401.52 L159.2 403.59 L160.2 405.68 L161.2 407.75 L162.2 409.79 L163.2 411.76 L164.2 413.66 L165.2 415.47 L166.2 417.18 L167.2 418.80 L168.2 420.32 L169.2 421.76 L170.2 423.11 L171.2 424.36 L172.2 425.48 L173.2 426.49 L174.2 427.38 L175.2 428.18 L176.2 428.89 L177.2 429.55 L178.2 430.13 L179.2 430.64 L180.2 431.06 L181.2 431.38 L182.2 431.60 L183.2 431.72 L184.2 431.75 L185.2 431.71 L186.2 431.62 L187.2 431.48 L188.2 431.31 L189.2 431.10 L190.2 430.85 L191.2 430.53 L192.2 430.13 L193.2 429.60 L194.2 428.94 L195.2 428.15 L196.2 427.24 L197.2 426.27 L198.2 425.27 L199.2 424.29 L200.2 423.34 L201.2 422.44 L202.2 421.57 L203.2 420.72 L204.2 419.86 L205.2 418.97 L206.2 418.03 L207.2 417.03 L208.2 415.96 L209.2 414.83 L210.2 413.65 L211.2 412.45 L212.2 411.26 L213.2 410.08 L214.2 408.93 L215.2 407.79 L216.2 406.67 L217.2 405.55 L218.2 404.43 L219.2 403.30 L220.2 402.17 L221.2 401.03 L222.2 399.88 L223.2 398.74 L224.2 397.61 L225.2 396.50 L226.2 395.42 L227.2 394.38 L228.2 393.38 L229.2 392.40 L230.2 391.46 L231.2 390.54 L232.2 389.64 L233.2 388.75 L234.2 387.87 L235.2 387.00 L236.2 386.12 L237.2 385.25 L238.2 384.37 L239.2 383.50 L240.2 382.63 L241.2 381.76 L242.2 380.90 L243.2 380.04 L244.2 379.18 L245.2 378.32 L246.2 377.46 L247.2 376.60 L248.2 375.74 L249.2 374.88 L250.2 374.03 L251.2 373.19 L252.2 372.37 L253.2 371.58 L254.2 370.81 L255.2 370.07 L256.2 369.36 L257.2 368.68 L258.2 368.02 L259.2 367.39 L260.2 366.77 L261.2 366.17 L262.2 365.57 L263.2 364.96 L264.2 364.35 L265.2 363.74 L266.2 363.12 L267.2 362.49 L268.2 361.86 L269.2 361.24 L270.2 360.64 L271.2 360.06 L272.2 359.51 L273.2 358.99 L274.2 358.50 L275.2 358.05 L276.2 357.64 L277.2 357.25 L278.2 356.88 L279.2 356.53 L280.2 356.20 L281.2 355.88 L282.2 355.57 L283.2 355.27 L284.2 354.98 L285.2 354.70 L286.2 354.42 L287.2 354.16 L288.2 353.90 L289.2 353.65 L290.2 353.42 L291.2 353.19 L292.2 352.98 L293.2 352.77 L294.2 352.58 L295.2 352.39 L296.2 352.21 L297.2 352.04 L298.2 351.88 L299.2 351.73 L300.2 351.58 L301.2 351.45 L302.2 351.32 L303.2 351.19 L304.2 351.07 L305.2 350.96 L306.2 350.85 L307.2 350.75 L308.2 350.65 L309.2 350.56 L310.2 350.47 L311.2 350.39 L312.2 350.31 L313.2 350.24 L314.2 350.17 L315.2 350.10 L316.2 350.04 L317.2 349.97 L318.2 349.91 L319.2 349.86 L320.2 349.80 L321.2 349.75 L322.2 349.71 L323.2 349.68 L324.2 349.65 L325.2 349.63 L326.2 349.62 L327.2 349.61 L328.2 349.60 L329.2 349.60 L330.2 349.61 L331.2 349.61 L332.2 349.61 L333.2 349.61 L334.2 349.62 L335.2 349.62 L336.2 349.63 L337.2 349.63 L338.2 349.63 L339.2 349.64 L340.2 349.64 L341.2 349.64 L342.2 349.65 L343.2 349.65 L344.2 349.65 L345.2 349.65 L346.2 349.65 L347.2 349.65 L348.2 349.65 L349.2 349.65 L350.2 349.65 L351.2 349.65 L352.2 349.65 L353.2 349.65 L354.2 349.65 L355.2 349.65 L356.2 349.65 L357.2 349.65 L358.2 349.65 L359.2 349.65 L360.2 349.65 L361.2 349.65 L362.2 349.65 L363.2 349.65 L364.2 349.65 L365.2 349.65 L366.2 349.65 L367.2 349.65 L368.2 349.65 L369.2 349.65 L370.2 349.65 L371.2 349.65 L372.2 349.65 L373.2 349.65 L374.2 349.65 L375.2 349.65 L376.2 349.65 L377.2 349.65 L378.2 349.65 L379.2 349.65 L380.2 349.65 L381.2 349.65 L382.2 349.65 L383.2 349.65 L384.2 349.65 L385.2 349.65 L386.2 349.65 L387.2 349.65 L388.2 349.65 L389.2 349.65 L390.2 349.65 L391.2 349.65 L392.2 349.65 L393.2 349.65 L394.2 349.65 L395.2 349.65 L396.2 349.65 L397.2 349.65 L398.2 349.65 L399.2 349.65 L400.2 349.65 L401.2 349.65 L402.2 349.65 L403.2 349.65 L404.2 349.65 L405.2 349.65 L406.2 349.65 L407.2 349.65 L408.2 349.65 L409.2 349.65 L410.2 349.65 L411.2 349.65 L412.2 349.65" fill="none" stroke="#ff0000" stroke-width="3.5" stroke-dasharray="15.2 8.4" stroke-dashoffset="-3.00" stroke-linejoin="round"/>
</g>
<path d="M138.56 539.65 v-5.00 M138.56 318.80 v5.00 M206.92 539.65 v-10.00 M206.92 318.80 v10.00 M275.28 539.65 v-5.00 M275.28 318.80 v5.00 M343.64 539.65 v-10.00 M343.64 318.80 v10.00 M70.20 349.50 h10.00 M412.00 349.50 h-10.00 M70.20 425.55 h10.00 M412.00 425.55 h-10.00 M70.20 501.60 h10.00 M412.00 501.60 h-10.00 M70.20 387.52 h5.00 M412.00 387.52 h-5.00 M70.20 463.57 h5.00 M412.00 463.57 h-5.00" stroke="#000" stroke-width="1" fill="none"/>
<rect x="338.3" y="466.3" width="70.5" height="39.6" fill="#fff" stroke="#000" stroke-width="1"/>
<path d="M344.7 477.4 H364.6" stroke="#0000ff" stroke-width="1.2"/>
<path d="M344.7 494.5 H364.6" stroke="#ff0000" stroke-width="3.6"/>
<text x="374.60" y="483.50" font-size="17.6" text-anchor="start" >isos</text>
<text x="374.60" y="500.70" font-size="17.6" text-anchor="start" >isov</text>
<rect x="70.20" y="318.80" width="341.80" height="220.85" fill="none" stroke="#000" stroke-width="2.40"/>
<text x="363.50" y="388.00" font-size="16.2" text-anchor="start" >(b)</text>
<text x="65.40" y="355.70" font-size="18" text-anchor="end" >0</text>
<text x="65.40" y="431.75" font-size="18" text-anchor="end" >-0.05</text>
<text x="65.40" y="507.80" font-size="18" text-anchor="end" >-0.1</text>
<text x="70.20" y="556.70" font-size="18" text-anchor="middle" >0</text>
<text x="206.92" y="556.70" font-size="18" text-anchor="middle" >4</text>
<text x="343.64" y="556.70" font-size="18" text-anchor="middle" >8</text>
<text x="241.30" y="572.50" font-size="18" text-anchor="middle" >r (fm)</text>
<g transform="translate(20.8 480.40) rotate(-90)"><text x="0.20" y="0.00" font-size="18.5">r</text><text x="4.80" y="-10.90" font-size="12.5">2</text><text x="20.50" y="0.00" font-size="18.5">xδρ</text><text x="56.70" y="0.00" font-size="18.5">(fm</text><text x="86.00" y="-10.90" font-size="12.5">-1</text><text x="97.30" y="0.00" font-size="18.5">)</text></g>
<defs><clipPath id="ca"><rect x="73.50" y="54.00" width="338.50" height="220.65"/></clipPath><clipPath id="cb"><rect x="73.50" y="318.80" width="338.50" height="220.85"/></clipPath></defs>
</g>
</svg>
</body></html>
